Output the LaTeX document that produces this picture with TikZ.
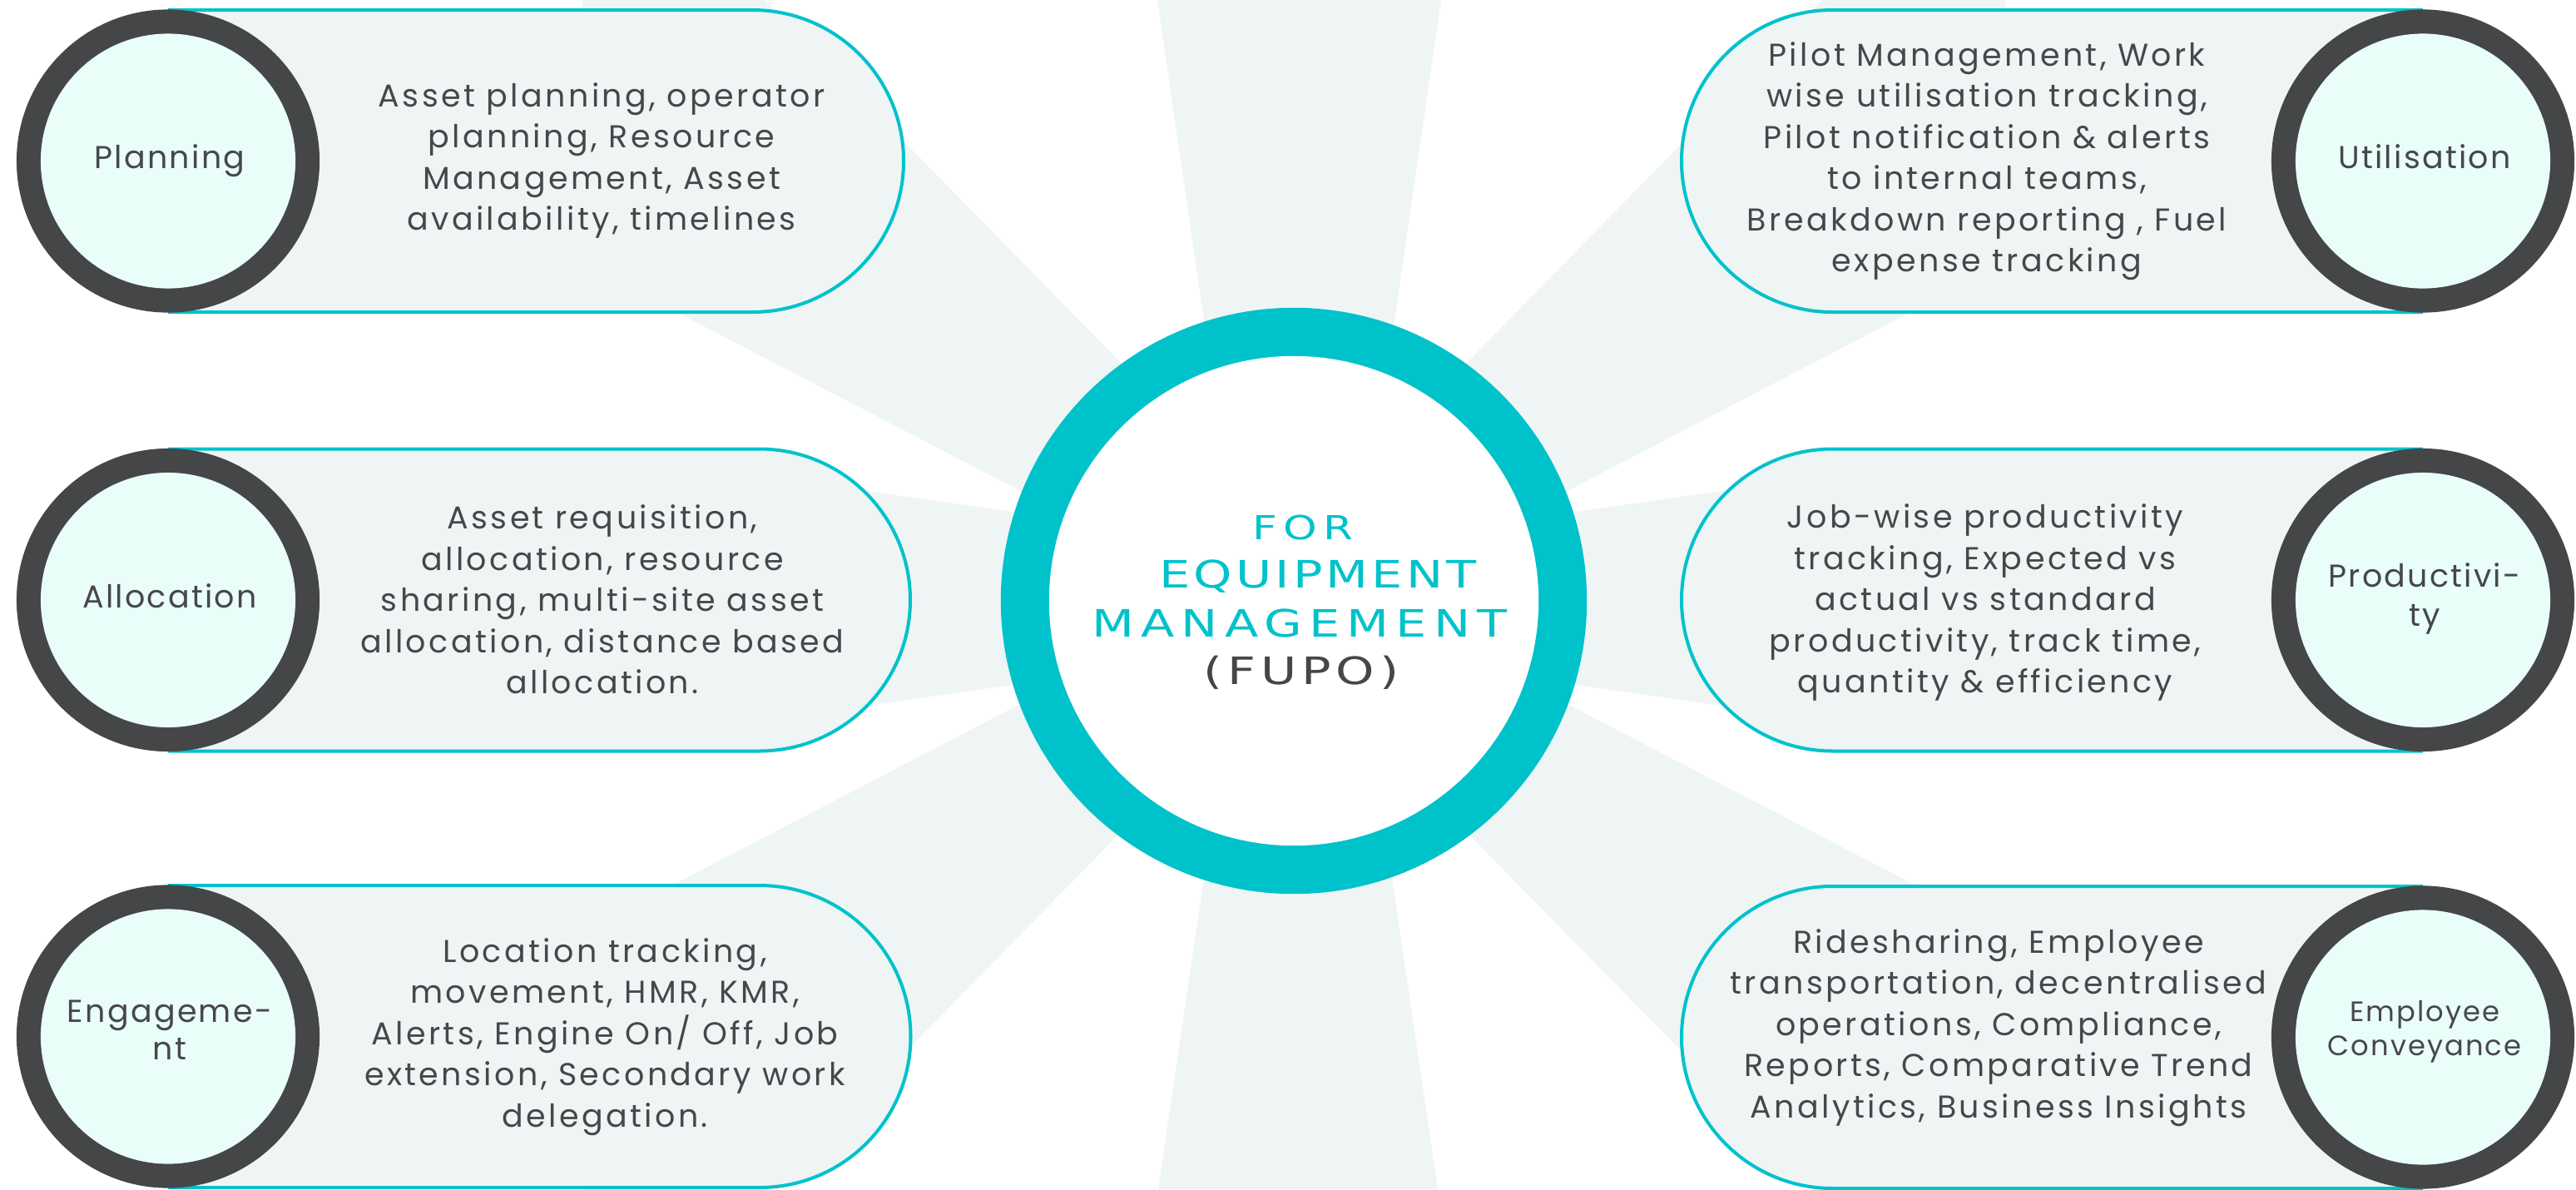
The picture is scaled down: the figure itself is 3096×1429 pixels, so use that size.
\documentclass[tikz,border=0pt]{standalone}
\usepackage{fontspec}
\newfontfamily\bodyfont[LetterSpace=9]{Poppins}
\newfontfamily\labelfont[LetterSpace=6]{Poppins}
\newfontfamily\titlefont[FakeStretch=1.3,LetterSpace=18]{DejaVu Sans}
\newfontfamily\titlefontn[FakeStretch=1.3,LetterSpace=9]{DejaVu Sans}
\newfontfamily\titlefontp[FakeStretch=1.3,LetterSpace=13]{DejaVu Sans}
\definecolor{rayc}{HTML}{EFF5F5}
\definecolor{pillc}{HTML}{EFF5F5}
\definecolor{cyanc}{HTML}{00C2CB}
\definecolor{darkc}{HTML}{454648}
\definecolor{mintc}{HTML}{E9FDF9}
\definecolor{txtc}{HTML}{47474A}
\tikzset{
  ray/.style={fill=rayc},
  pill/.style={fill=pillc, draw=cyanc, line width=1.14pt},
  ringnode/.style={circle, fill=darkc, minimum size=3.64cm, inner sep=0},
  hubnode/.style={circle, fill=mintc, minimum size=3.06cm, inner sep=0},
  body/.style={font=\bodyfont\fontsize{10.8}{14.08}\selectfont, text=txtc, align=center, inner sep=0},
  lab/.style={font=\labelfont\fontsize{10.8}{13.4}\selectfont, text=txtc, align=center, inner sep=0},
  ttl/.style={font=\titlefont\fontsize{12.9}{15}\selectfont, text=cyanc, inner sep=0, anchor=base}
}
\begin{document}
\begin{tikzpicture}[x=0.01cm, y=-0.01cm]
\useasboundingbox (0,0) rectangle (3096,1429);
\fill[white] (0,0) rectangle (3096,1429);
\begin{scope}
\clip (0,0) rectangle (3096,1429);
% rays
\fill[ray] (1391,0) -- (1732,0) -- (1627,722) -- (1496,722) -- cycle;
\fill[ray] (1392,1429) -- (1728,1429) -- (1624,722) -- (1496,722) -- cycle;
\fill[ray] (900,570) -- (1555,663) -- (1555,775) -- (900,868) -- cycle;
\fill[ray] (2210,570) -- (1555,663) -- (1555,775) -- (2210,868) -- cycle;
\fill[ray] (700,-224) -- (1555,648) -- (1555,761) -- (700,316) -- cycle;
\fill[ray] (2410,-224) -- (1555,648) -- (1555,761) -- (2410,316) -- cycle;
\fill[ray] (700,1660) -- (1555,788) -- (1555,675) -- (700,1120) -- cycle;
\fill[ray] (2410,1660) -- (1555,788) -- (1555,675) -- (2410,1120) -- cycle;
\end{scope}
% left pills
\path[pill] (202,12) -- (904.5,12) arc[start angle=-90, end angle=90, radius=181.5] -- (202,375);
\path[pill] (202,539.5) -- (912.5,539.5) arc[start angle=-90, end angle=90, radius=181.5] -- (202,902.5);
\path[pill] (202,1064) -- (913,1064) arc[start angle=-90, end angle=90, radius=181.5] -- (202,1427);
% right pills
\path[pill] (2912,12) -- (2202.5,12) arc[start angle=-90, end angle=-270, radius=181.5] -- (2912,375);
\path[pill] (2912,539.5) -- (2202.5,539.5) arc[start angle=-90, end angle=-270, radius=181.5] -- (2912,902.5);
\path[pill] (2912,1065) -- (2202.5,1065) arc[start angle=-90, end angle=-270, radius=181.5] -- (2912,1428);
% end circles
\node[ringnode] (rP) at (202,193.5) {};
\node[hubnode] (hP) at (202,193.5) {};
\node[ringnode] (rA) at (202,721) {};
\node[hubnode] (hA) at (202,721) {};
\node[ringnode] (rE) at (202,1245.5) {};
\node[hubnode] (hE) at (202,1245.5) {};
\node[ringnode] (rU) at (2912,193.5) {};
\node[hubnode] (hU) at (2912,193.5) {};
\node[ringnode] (rR) at (2912,721) {};
\node[hubnode] (hR) at (2912,721) {};
\node[ringnode] (rC) at (2912,1246.5) {};
\node[hubnode] (hC) at (2912,1246.5) {};
% labels
\node[lab, anchor=base] (lP) at (204,202) {Planning};
\node[lab, anchor=base] (lA) at (204,730) {Allocation};
\node[lab, font=\labelfont\fontsize{10.8}{12.8}\selectfont] (lE) at (204,1238) {Engageme-\\nt};
\node[lab, anchor=base] (lU) at (2914,202) {Utilisation};
\node[lab] (lR) at (2914,719) {Productivi-\\ty};
\node[lab, font=\labelfont\fontsize{9.6}{11.8}\selectfont] (lC) at (2914,1240) {Employee\\Conveyance};
% body texts
\node[body] (tP) at (723,193) {Asset planning, operator\\planning, Resource\\Management, Asset\\availability, timelines};
\node[body] (tA) at (724,720.5) {Asset requisition,\\allocation, resource\\sharing, multi-site asset\\allocation, distance based\\allocation.};
\node[body] (tE) at (727,1246) {Location tracking,\\movement, HMR, KMR,\\Alerts, Engine On/ Off, Job\\extension, Secondary work\\delegation.};
\node[body] (tU) at (2388,193.5) {Pilot Management, Work\\wise utilisation tracking,\\Pilot notification \& alerts\\to internal teams,\\Breakdown reporting , Fuel\\expense tracking};
\node[body] (tR) at (2386,724) {Job-wise productivity\\tracking, Expected vs\\actual vs standard\\productivity, track time,\\quantity \& efficiency};
\node[body] (tC) at (2402,1235) {Ridesharing, Employee\\transportation, decentralised\\operations, Compliance,\\Reports, Comparative Trend\\Analytics, Business Insights};
% centre
\node[circle, fill=cyanc, minimum size=7.04cm, inner sep=0] (hubring) at (1555,722) {};
\node[circle, fill=white, minimum size=5.88cm, inner sep=0] (hub) at (1555,722) {};
\node[ttl, font=\titlefont\fontsize{11.3}{13}\selectfont] (t1) at (1566,648) {FOR};
\node[ttl, font=\titlefontn\fontsize{12.9}{15}\selectfont] (t2) at (1584,706.6) {EQUIPMENT};
\node[ttl] (t3) at (1562,765) {MANAGEMENT};
\node[ttl, font=\titlefontp\fontsize{12.9}{15}\selectfont, text=darkc] (t4) at (1564,822) {(FUPO)};
\end{tikzpicture}
\end{document}
